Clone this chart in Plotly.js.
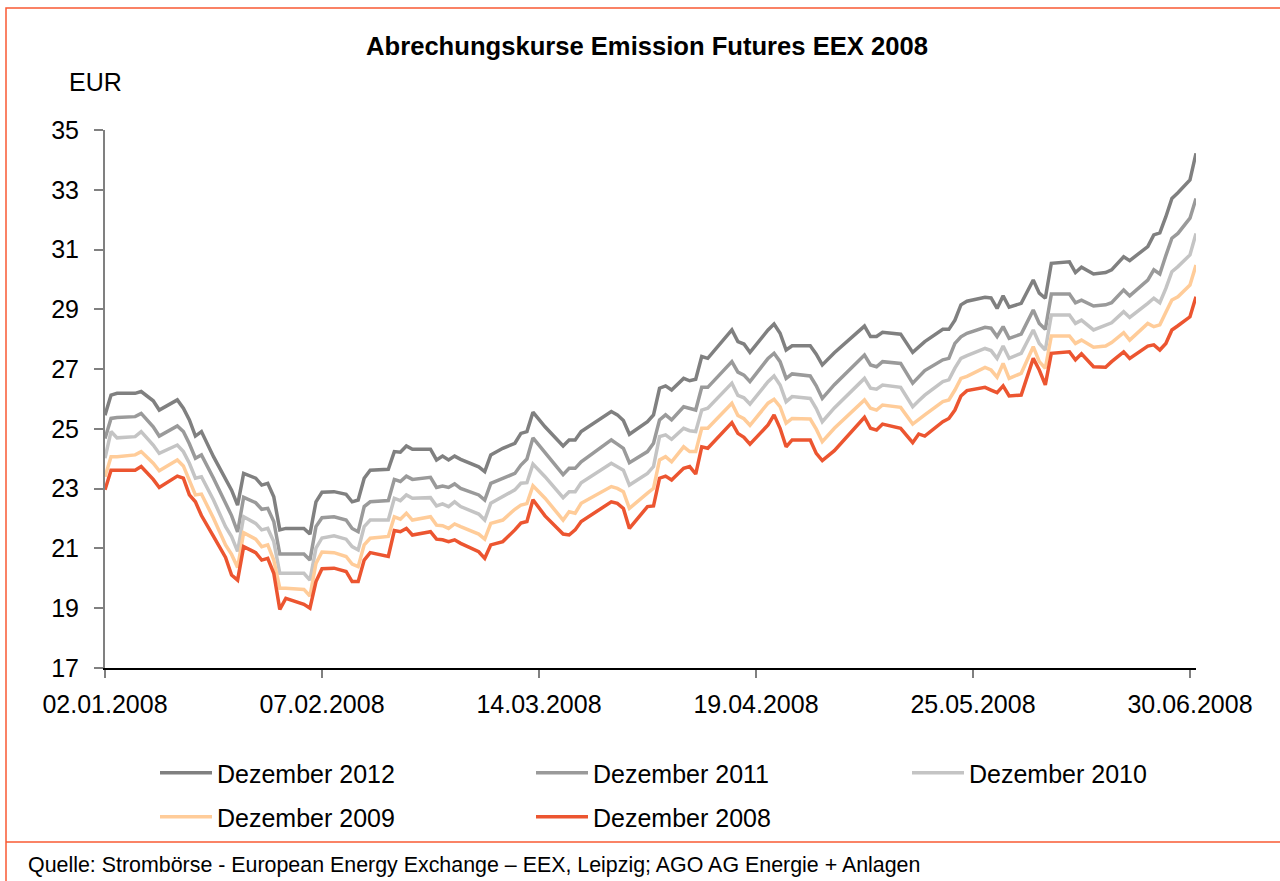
<!DOCTYPE html>
<html>
<head>
<meta charset="utf-8">
<script src="https://cdn.plot.ly/plotly-3.0.1.min.js"></script>
<style>
  html, body { margin: 0; padding: 0; background: #ffffff; }
  #chart { width: 1280px; height: 881px; }
</style>
</head>
<body>
<div id="chart"></div>
<script>
const dates = [
  '2008-01-02','2008-01-03','2008-01-04','2008-01-07','2008-01-08','2008-01-10','2008-01-11','2008-01-14','2008-01-15','2008-01-16',
  '2008-01-17','2008-01-18','2008-01-20','2008-01-22','2008-01-23','2008-01-24','2008-01-25','2008-01-27','2008-01-28','2008-01-29',
  '2008-01-30','2008-01-31','2008-02-01','2008-02-04','2008-02-05','2008-02-06','2008-02-07','2008-02-09','2008-02-11','2008-02-12',
  '2008-02-13','2008-02-14','2008-02-15','2008-02-18','2008-02-19','2008-02-20','2008-02-21','2008-02-22','2008-02-25','2008-02-26',
  '2008-02-27','2008-02-28','2008-02-29','2008-03-01','2008-03-04','2008-03-05','2008-03-06','2008-03-08','2008-03-10','2008-03-11',
  '2008-03-12','2008-03-13','2008-03-15','2008-03-18','2008-03-19','2008-03-20','2008-03-21','2008-03-26','2008-03-27','2008-03-28',
  '2008-03-29','2008-04-01','2008-04-02','2008-04-03','2008-04-04','2008-04-05','2008-04-07','2008-04-08','2008-04-09','2008-04-10',
  '2008-04-11','2008-04-15','2008-04-16','2008-04-17','2008-04-18','2008-04-21','2008-04-22','2008-04-23','2008-04-24','2008-04-25',
  '2008-04-28','2008-04-29','2008-04-30','2008-05-02','2008-05-07','2008-05-08','2008-05-09','2008-05-10','2008-05-13','2008-05-15',
  '2008-05-16','2008-05-17','2008-05-20','2008-05-21','2008-05-22','2008-05-23','2008-05-24','2008-05-27','2008-05-28','2008-05-29',
  '2008-05-30','2008-05-31','2008-06-02','2008-06-04','2008-06-05','2008-06-06','2008-06-07','2008-06-10','2008-06-11','2008-06-12',
  '2008-06-14','2008-06-16','2008-06-17','2008-06-19','2008-06-20','2008-06-23','2008-06-24','2008-06-25','2008-06-26','2008-06-27',
  '2008-06-28','2008-06-30','2008-07-01'
];

const dez2012 = [
  25.46,26.13,26.19,26.19,26.25,25.94,25.63,25.97,25.69,25.30,
  24.76,24.91,24.07,23.29,22.95,22.45,23.51,23.35,23.12,23.18,
  22.73,21.62,21.67,21.67,21.48,22.56,22.88,22.90,22.81,22.56,
  22.62,23.35,23.62,23.65,24.24,24.22,24.43,24.32,24.32,23.96,
  24.09,23.96,24.09,23.98,23.73,23.57,24.13,24.35,24.52,24.85,
  24.91,25.56,25.07,24.43,24.63,24.63,24.91,25.58,25.47,25.28,
  24.82,25.24,25.47,26.36,26.44,26.30,26.69,26.61,26.66,27.42,
  27.36,28.31,27.92,27.84,27.56,28.31,28.51,28.20,27.64,27.78,
  27.78,27.50,27.14,27.55,28.44,28.09,28.09,28.23,28.17,27.56,
  27.74,27.92,28.33,28.33,28.64,29.15,29.27,29.40,29.38,29.03,
  29.45,29.07,29.20,29.98,29.54,29.37,30.54,30.59,30.23,30.41,
  30.18,30.23,30.32,30.76,30.63,31.10,31.49,31.56,32.10,32.71,
  32.90,33.33,34.22
];

const dez2011 = [
  24.68,25.35,25.38,25.41,25.52,25.07,24.76,25.10,24.91,24.50,
  24.02,24.13,23.35,22.51,22.10,21.55,22.71,22.53,22.31,22.34,
  21.90,20.81,20.81,20.81,20.61,21.73,22.03,22.06,21.95,21.67,
  21.56,22.40,22.56,22.60,23.31,23.24,23.42,23.31,23.38,23.04,
  23.09,23.04,23.16,23.01,22.79,22.62,23.18,23.35,23.51,23.79,
  23.99,24.70,24.22,23.47,23.68,23.68,23.90,24.63,24.49,24.35,
  23.87,24.24,24.52,25.30,25.47,25.30,25.74,25.69,25.63,26.39,
  26.39,27.25,26.90,26.80,26.58,27.36,27.53,27.25,26.69,26.84,
  26.77,26.44,26.02,26.48,27.47,27.14,27.08,27.25,27.19,26.53,
  26.74,26.95,27.31,27.36,27.86,28.08,28.20,28.40,28.37,28.09,
  28.42,28.03,28.17,28.98,28.53,28.33,29.51,29.51,29.22,29.31,
  29.11,29.15,29.22,29.65,29.45,29.98,30.32,30.18,30.80,31.38,
  31.54,32.05,32.71
];

const dez2010 = [
  24.02,24.91,24.70,24.74,24.91,24.46,24.18,24.46,24.24,23.85,
  23.35,23.40,22.62,21.73,21.40,20.90,22.06,21.84,21.62,21.67,
  21.23,20.17,20.17,20.17,19.94,21.01,21.35,21.42,21.31,21.06,
  20.95,21.73,21.95,21.95,22.68,22.60,22.79,22.68,22.70,22.42,
  22.49,22.40,22.56,22.40,22.15,21.95,22.51,22.73,22.96,23.18,
  23.20,23.82,23.40,22.70,22.90,22.90,23.20,23.85,23.74,23.62,
  23.12,23.51,23.74,24.74,24.80,24.65,25.02,24.94,24.91,25.63,
  25.69,26.53,26.12,26.04,25.83,26.58,26.77,26.47,25.91,26.08,
  26.02,25.68,25.24,25.70,26.69,26.36,26.33,26.47,26.39,25.74,
  25.94,26.13,26.58,26.64,27.03,27.36,27.45,27.69,27.62,27.36,
  27.77,27.36,27.53,28.31,27.86,27.64,28.81,28.81,28.53,28.64,
  28.31,28.48,28.55,28.92,28.73,29.20,29.37,29.22,29.70,30.26,
  30.43,30.82,31.54
];

const dez2009 = [
  23.40,24.07,24.07,24.13,24.24,23.85,23.60,23.96,23.76,23.30,
  22.79,22.82,22.01,21.12,20.80,20.36,21.53,21.31,21.06,21.12,
  20.61,19.67,19.67,19.63,19.41,20.50,20.88,20.86,20.73,20.48,
  20.39,21.12,21.34,21.40,22.06,21.98,22.18,21.95,22.06,21.78,
  21.76,21.67,21.82,21.73,21.48,21.31,21.84,21.95,22.31,22.45,
  22.50,23.10,22.68,21.95,22.23,22.18,22.51,23.07,23.01,22.90,
  22.34,22.85,23.01,23.96,24.07,23.90,24.40,24.24,24.24,25.02,
  25.02,25.86,25.45,25.34,25.12,25.86,25.99,25.74,25.19,25.35,
  25.33,24.99,24.57,25.02,25.97,25.69,25.63,25.80,25.72,25.16,
  25.30,25.47,25.91,25.97,26.30,26.69,26.76,27.06,26.97,26.73,
  27.19,26.69,26.86,27.75,27.25,27.03,28.11,28.11,27.86,27.97,
  27.73,27.77,27.89,28.22,27.97,28.53,28.42,28.48,28.90,29.31,
  29.42,29.81,30.48
];

const dez2008 = [
  22.96,23.62,23.62,23.62,23.74,23.31,23.04,23.42,23.35,22.79,
  22.56,22.10,21.40,20.70,20.11,19.94,21.06,20.86,20.61,20.67,
  20.17,18.96,19.33,19.13,19.00,19.89,20.32,20.34,20.23,19.89,
  19.89,20.61,20.86,20.73,21.60,21.56,21.67,21.45,21.56,21.31,
  21.29,21.23,21.29,21.17,20.89,20.67,21.12,21.23,21.62,21.85,
  21.90,22.63,22.09,21.48,21.45,21.62,21.90,22.56,22.51,22.34,
  21.67,22.40,22.42,23.35,23.42,23.29,23.68,23.74,23.49,24.40,
  24.35,25.21,24.85,24.72,24.49,25.13,25.47,25.02,24.40,24.63,
  24.63,24.18,23.94,24.27,25.39,25.02,24.96,25.16,25.02,24.54,
  24.83,24.76,25.24,25.35,25.63,26.10,26.28,26.39,26.30,26.21,
  26.44,26.10,26.13,27.36,26.97,26.47,27.53,27.58,27.31,27.51,
  27.08,27.06,27.25,27.58,27.36,27.77,27.81,27.64,27.86,28.31,
  28.45,28.75,29.42
];

const seriesNames = ['Dezember 2012','Dezember 2011','Dezember 2010','Dezember 2009','Dezember 2008'];
const seriesValues = [dez2012, dez2011, dez2010, dez2009, dez2008];
const seriesColors = ['#808080','#9a9a9a','#c4c4c4','#ffcc99','#ec5530'];

const xTickVals = ['2008-01-02','2008-02-07','2008-03-14','2008-04-19','2008-05-25','2008-06-30'];
const xTickText = ['02.01.2008','07.02.2008','14.03.2008','19.04.2008','25.05.2008','30.06.2008'];
const yTickVals = [17,19,21,23,25,27,29,31,33,35];

const FONT = 'Liberation Sans, Arial, Helvetica, sans-serif';

// plot area in pixels: x 105..1196, y 130..668
const L = 105, R = 1196, T = 130, B = 668;
const px = v => (v - L) / (R - L);
const py = v => (B - v) / (B - T);
const frameColor = '#f95a33';

// legend slots (text start x, row centre y) in pixels, one legend per entry
const legendIds = ['legend','legend2','legend3','legend4','legend5'];
const legendSlots = [[217,773],[593,773],[969,773],[217,817],[593,817]];
const ITEMW = 52;

const traces = seriesNames.map((name, i) => ({
  type: 'scatter',
  mode: 'lines',
  name: name,
  x: dates,
  y: seriesValues[i],
  line: { color: seriesColors[i], width: 3.5 },
  legend: legendIds[i],
  hoverinfo: 'x+y+name'
}));

const layout = {
  width: 1280,
  height: 881,
  paper_bgcolor: '#ffffff',
  plot_bgcolor: '#ffffff',
  margin: { l: L, r: 1280 - R, t: T, b: 881 - B, pad: 0 },
  font: { family: FONT, color: '#000000', size: 25 },
  title: {
    text: 'Abrechungskurse Emission Futures EEX 2008',
    font: { family: FONT, size: 25.6, color: '#000000', weight: 'bold' },
    x: 647 / 1280, xanchor: 'center', xref: 'container',
    y: 1 - 46 / 881, yanchor: 'middle', yref: 'container'
  },
  showlegend: true,
  xaxis: {
    type: 'date',
    range: ['2008-01-02', '2008-07-01'],
    tickmode: 'array',
    tickvals: xTickVals,
    ticktext: xTickText,
    ticks: 'outside', ticklen: 8, tickwidth: 2, tickcolor: '#808080',
    showline: true, linecolor: '#000000', linewidth: 2,
    showgrid: false, zeroline: false,
    tickfont: { family: FONT, size: 25, color: '#000000' },
    ticklabelstandoff: 5,
    fixedrange: true
  },
  yaxis: {
    range: [17, 35],
    tickmode: 'array',
    tickvals: yTickVals,
    ticktext: yTickVals.map(String),
    ticks: 'outside', ticklen: 9, tickwidth: 2, tickcolor: '#808080',
    showline: true, linecolor: '#808080', linewidth: 2,
    showgrid: false, zeroline: false,
    tickfont: { family: FONT, size: 25, color: '#000000' },
    ticklabelstandoff: 10,
    fixedrange: true
  },
  shapes: [
    { type: 'rect', xref: 'paper', yref: 'paper', layer: 'below',
      x0: px(6), x1: px(1300), y0: py(900), y1: py(8),
      line: { color: frameColor, width: 1.5 }, fillcolor: 'rgba(0,0,0,0)' },
    { type: 'line', xref: 'paper', yref: 'paper', layer: 'below',
      x0: px(6), x1: px(1300), y0: py(842), y1: py(842),
      line: { color: frameColor, width: 1.5 } }
  ],
  annotations: [
    { text: 'EUR', xref: 'paper', yref: 'paper', x: px(95), y: py(82),
      xanchor: 'center', yanchor: 'middle', showarrow: false,
      font: { family: FONT, size: 25, color: '#000000' } },
    { text: 'Quelle: Strombörse - European Energy Exchange – EEX, Leipzig; AGO AG Energie + Anlagen',
      xref: 'paper', yref: 'paper', x: px(26), y: py(865),
      xanchor: 'left', yanchor: 'middle', showarrow: false,
      font: { family: FONT, size: 21.4, color: '#000000' } }
  ]
};

legendIds.forEach((id, i) => {
  const [tx, ty] = legendSlots[i];
  layout[id] = {
    orientation: 'h',
    x: px(tx - (ITEMW + 10)), xanchor: 'left',
    y: py(ty), yanchor: 'middle',
    itemwidth: ITEMW,
    font: { family: FONT, size: 25, color: '#000000' },
    bgcolor: 'rgba(0,0,0,0)',
    borderwidth: 0
  };
});

Plotly.newPlot('chart', traces, layout, { displayModeBar: false });
</script>
</body>
</html>
